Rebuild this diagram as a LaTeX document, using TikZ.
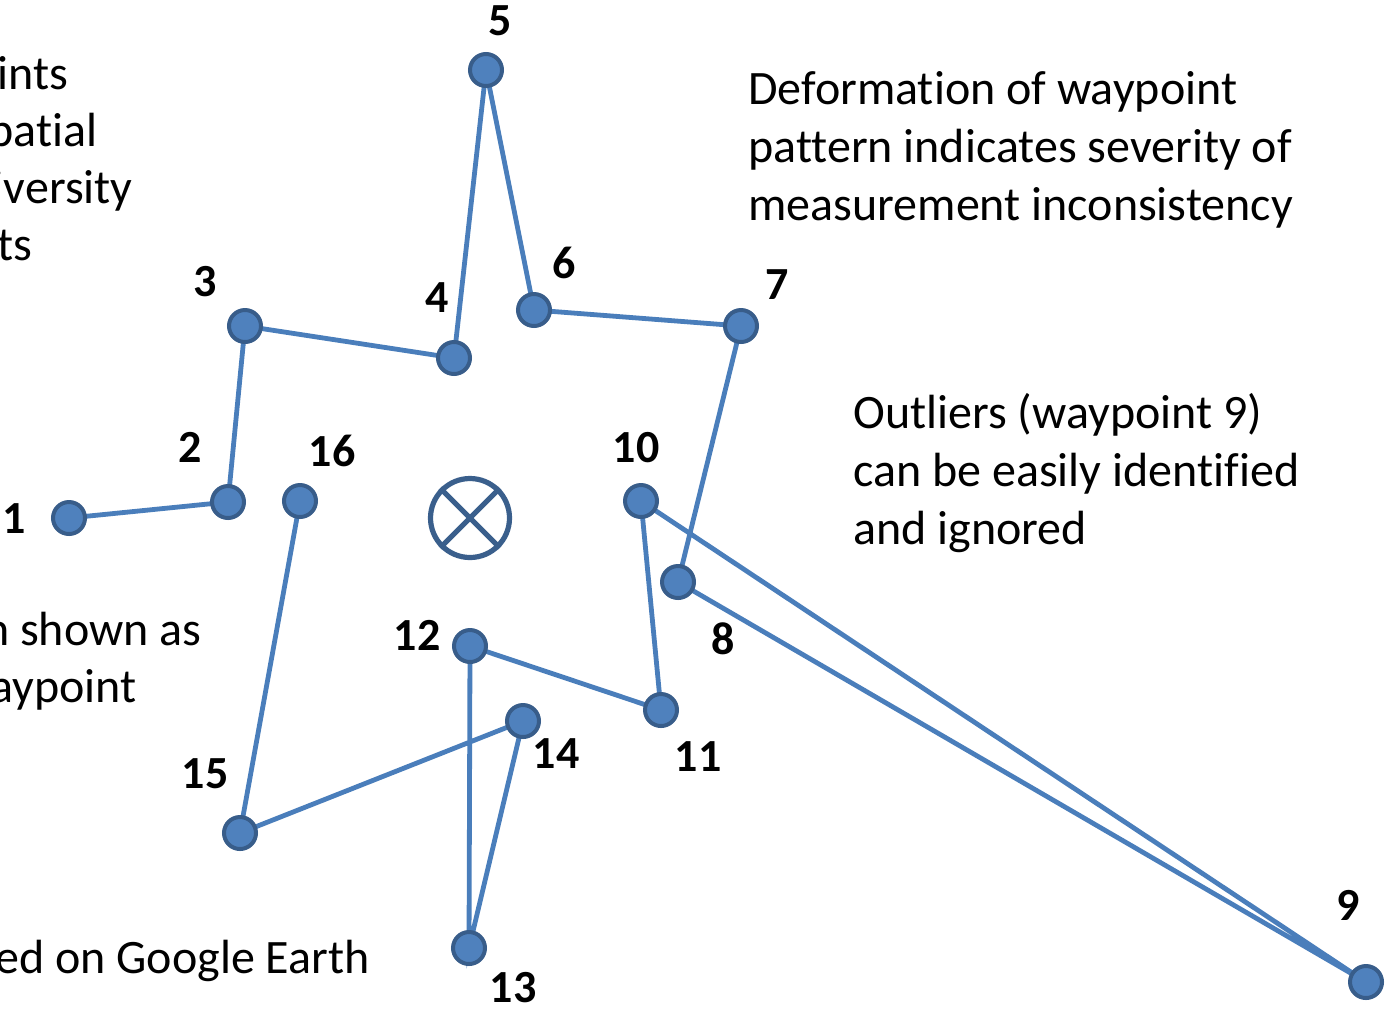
\documentclass[tikz,border=0pt]{standalone}
\usepackage{fontspec}
\setmainfont{Carlito}[Ligatures={NoCommon}]
\begin{document}
\begin{tikzpicture}[x=0.5pt,y=-0.5pt]
\definecolor{wpfill}{RGB}{79,129,189}
\definecolor{wpedge}{RGB}{56,93,138}
\definecolor{wpline}{RGB}{74,126,187}
\definecolor{xcol}{RGB}{58,95,140}
\tikzset{
  wp/.style={circle,draw=wpedge,fill=wpfill,line width=2pt,minimum size=16pt,inner sep=0pt},
  lnk/.style={draw=wpline,line width=2.4pt},
  lbl/.style={font=\bfseries\fontsize{23pt}{27pt}\selectfont,anchor=base,inner sep=0pt},
  txt/.style={font=\fontsize{24pt}{29pt}\selectfont,anchor=base west,inner sep=0pt},
  txte/.style={font=\fontsize{24pt}{29pt}\selectfont,anchor=base east,inner sep=0pt}
}
\useasboundingbox (0,0) rectangle (1385,1008);
% left clipped texts
\node[txte] (l1) at (69,89) {Waypoints};
\node[txte] (l2) at (98,146) {spatial};
\node[txte] (l3) at (133,203) {diversity};
\node[txte] (l4) at (33,260) {points};
\node[txte] (l5) at (202,645) {Location shown as};
\node[txte] (l6) at (137,702) {waypoint};
\node[txte] (l7) at (370,973) {based on Google Earth};
% right texts
\node[txt] (r1) at (748,104) {Deformation of waypoint};
\node[txt] (r2) at (748,162) {pattern indicates severity of};
\node[txt] (r3) at (748,220) {measurement inconsistency};
\node[txt] (o1) at (853,428) {Outliers (waypoint 9)};
\node[txt] (o2) at (853,486) {can be easily identified};
\node[txt] (o3) at (853,544) {and ignored};
% centre mark
\node[circle,draw=xcol,line width=2.6pt,minimum size=39.5pt,inner sep=0pt] (c) at (470,518) {};
\draw[xcol,line width=2.6pt] (c.45) -- (c.225) (c.135) -- (c.-45);
% waypoints
\coordinate (p1) at (69,518);
\coordinate (p2) at (228,502);
\coordinate (p3) at (245,326);
\coordinate (p4) at (454,358);
\coordinate (p5) at (486,70);
\coordinate (p6) at (534,310);
\coordinate (p7) at (741,326);
\coordinate (p8) at (678,582);
\coordinate (p9) at (1366,982);
\coordinate (p10) at (641,501);
\coordinate (p11) at (661,710);
\coordinate (p12) at (470,646);
\coordinate (p13) at (469,948);
\coordinate (p14) at (523,721);
\coordinate (p15) at (240,833);
\coordinate (p16) at (300,501);
\path[lnk] (p1)--(p2)--(p3)--(p4)--(p5)--(p6)--(p7)--(p8)--(p9)--(p10)--(p11)--(p12)--(p13)--(p14)--(p15)--(p16);
\foreach \i in {1,...,16} {\node[wp] (w\i) at (p\i) {};}
% labels
\node[lbl] (t1) at (14,533) {1};
\node[lbl] (t2) at (190,462) {2};
\node[lbl] (t3) at (205,296) {3};
\node[lbl] (t4) at (437,312) {4};
\node[lbl] (t5) at (500,35) {5};
\node[lbl] (t6) at (564,278) {6};
\node[lbl] (t7) at (777,299) {7};
\node[lbl] (t8) at (723,654) {8};
\node[lbl] (t9) at (1348,920) {9};
\node[lbl] (t10) at (636,462) {10};
\node[lbl] (t11) at (698,771) {11};
\node[lbl] (t12) at (417,650) {12};
\node[lbl] (t13) at (513,1002) {13};
\node[lbl] (t14) at (556,768) {14};
\node[lbl] (t15) at (205,788) {15};
\node[lbl] (t16) at (332,466) {16};
\end{tikzpicture}
\end{document}
